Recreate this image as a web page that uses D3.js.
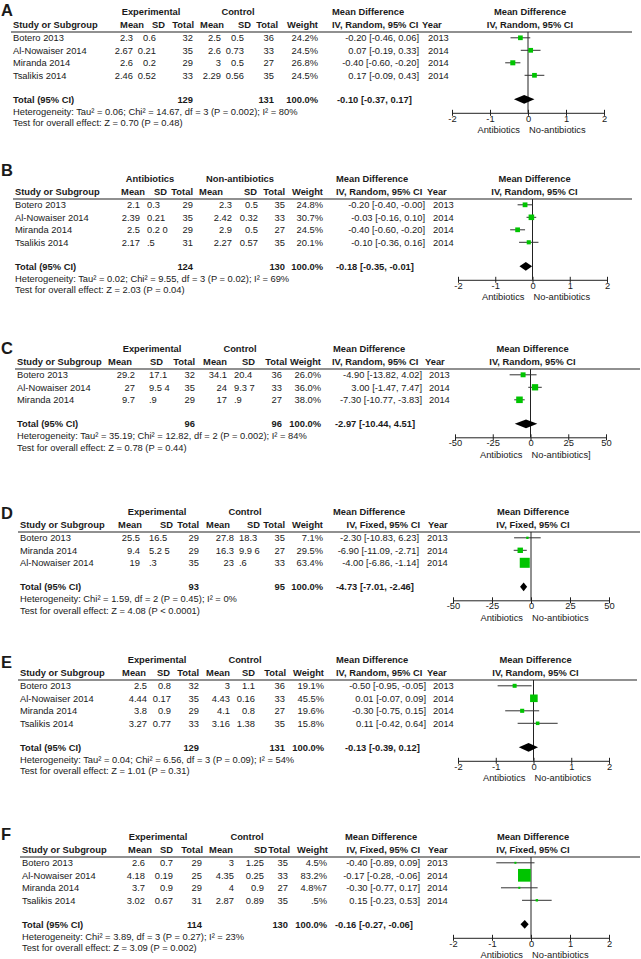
<!DOCTYPE html>
<html><head><meta charset="utf-8">
<script src="https://cdn.jsdelivr.net/npm/d3@7"></script>
<style>
body{margin:0;background:#fff;}
text{font-family:"Liberation Sans",Arial,sans-serif;fill:#1a1a1a;}
</style>
</head><body>
<svg id="c" width="641" height="959"></svg>
<script>
// ================= DATA =================
const panelNames = ["A", "B", "C", "D", "E", "F"];
const groupLabels = [
  ["Experimental", "Control"], ["Antibiotics", "Non-antibiotics"], ["Experimental", "Control"],
  ["Experimental", "Control"], ["Experimental", "Control"], ["Experimental", "Control"]];
const methods = ["IV, Random, 95% CI", "IV, Random, 95% CI", "IV, Random, 95% CI",
  "IV, Fixed, 95% CI", "IV, Random, 95% CI", "IV, Fixed, 95% CI"];
const ticksSmall = [-2, -1, 0, 1, 2];
const ticksLarge = [-50, -25, 0, 25, 50];
const panelTicks = [ticksSmall, ticksSmall, ticksLarge, ticksLarge, ticksSmall, ticksSmall];
const favourLeft = ["Antibiotics", "Antibiotics", "Antibiotics", "Antibiotics", "Antibiotics", "Antibiotics"];
const favourRight = ["No-antibiotics", "No-antibiotics", "No-antibiotics]", "No-antibiotics", "No-antibiotics", "No-antibiotics"];

// Panel A
const studiesA = ["Botero 2013", "Al-Nowaiser 2014", "Miranda 2014", "Tsalikis 2014"];
const tableA = [
  ["2.3", "0.6", "32", "2.5", "0.5", "36", "24.2%", "-0.20 [-0.46, 0.06]", "2013"],
  ["2.67", "0.21", "35", "2.6", "0.73", "33", "24.5%", "0.07 [-0.19, 0.33]", "2014"],
  ["2.6", "0.2", "29", "3", "0.5", "27", "26.8%", "-0.40 [-0.60, -0.20]", "2014"],
  ["2.46", "0.52", "33", "2.29", "0.56", "35", "24.5%", "0.17 [-0.09, 0.43]", "2014"]];
const mdA = [-0.20, 0.07, -0.40, 0.17];
const loA = [-0.46, -0.19, -0.60, -0.09];
const hiA = [0.06, 0.33, -0.20, 0.43];
const wA = [24.2, 24.5, 26.8, 24.5];
const totalA = ["129", "131", "100.0%", "-0.10 [-0.37, 0.17]"];
const totalValA = [-0.10, -0.37, 0.17];
const hetA = "Heterogeneity: Tau² = 0.06; Chi² = 14.67, df = 3 (P = 0.002); I² = 80%";
const testA = "Test for overall effect: Z = 0.70 (P = 0.48)";

// Panel B
const studiesB = ["Botero 2013", "Al-Nowaiser 2014", "Miranda 2014", "Tsalikis 2014"];
const tableB = [
  ["2.1", "0.3", "29", "2.3", "0.5", "35", "24.8%", "-0.20 [-0.40, -0.00]", "2013"],
  ["2.39", "0.21", "35", "2.42", "0.32", "33", "30.7%", "-0.03 [-0.16, 0.10]", "2014"],
  ["2.5", "0.2 0", "29", "2.9", "0.5", "27", "24.5%", "-0.40 [-0.60, -0.20]", "2014"],
  ["2.17", ".5", "31", "2.27", "0.57", "35", "20.1%", "-0.10 [-0.36, 0.16]", "2014"]];
const mdB = [-0.20, -0.03, -0.40, -0.10];
const loB = [-0.40, -0.16, -0.60, -0.36];
const hiB = [-0.00, 0.10, -0.20, 0.16];
const wB = [24.8, 30.7, 24.5, 20.1];
const totalB = ["124", "130", "100.0%", "-0.18 [-0.35, -0.01]"];
const totalValB = [-0.18, -0.35, -0.01];
const hetB = "Heterogeneity: Tau² = 0.02; Chi² = 9.55, df = 3 (P = 0.02); I² = 69%";
const testB = "Test for overall effect: Z = 2.03 (P = 0.04)";

// Panel C
const studiesC = ["Botero 2013", "Al-Nowaiser 2014", "Miranda 2014"];
const tableC = [
  ["29.2", "17.1", "32", "34.1", "20.4", "36", "26.0%", "-4.90 [-13.82, 4.02]", "2013"],
  ["27", "9.5 4", "35", "24", "9.3 7", "33", "36.0%", "3.00 [-1.47, 7.47]", "2014"],
  ["9.7", ".9", "29", "17", ".9", "27", "38.0%", "-7.30 [-10.77, -3.83]", "2014"]];
const mdC = [-4.90, 3.00, -7.30];
const loC = [-13.82, -1.47, -10.77];
const hiC = [4.02, 7.47, -3.83];
const wC = [26.0, 36.0, 38.0];
const totalC = ["96", "96", "100.0%", "-2.97 [-10.44, 4.51]"];
const totalValC = [-2.97, -10.44, 4.51];
const hetC = "Heterogeneity: Tau² = 35.19; Chi² = 12.82, df = 2 (P = 0.002); I² = 84%";
const testC = "Test for overall effect: Z = 0.78 (P = 0.44)";

// Panel D
const studiesD = ["Botero 2013", "Miranda 2014", "Al-Nowaiser 2014"];
const tableD = [
  ["25.5", "16.5", "29", "27.8", "18.3", "35", "7.1%", "-2.30 [-10.83, 6.23]", "2013"],
  ["9.4", "5.2 5", "29", "16.3", "9.9 6", "27", "29.5%", "-6.90 [-11.09, -2.71]", "2014"],
  ["19", ".3", "35", "23", ".6", "33", "63.4%", "-4.00 [-6.86, -1.14]", "2014"]];
const mdD = [-2.30, -6.90, -4.00];
const loD = [-10.83, -11.09, -6.86];
const hiD = [6.23, -2.71, -1.14];
const wD = [7.1, 29.5, 63.4];
const totalD = ["93", "95", "100.0%", "-4.73 [-7.01, -2.46]"];
const totalValD = [-4.73, -7.01, -2.46];
const hetD = "Heterogeneity: Chi² = 1.59, df = 2 (P = 0.45); I² = 0%";
const testD = "Test for overall effect: Z = 4.08 (P < 0.0001)";

// Panel E
const studiesE = ["Botero 2013", "Al-Nowaiser 2014", "Miranda 2014", "Tsalikis 2014"];
const tableE = [
  ["2.5", "0.8", "32", "3", "1.1", "36", "19.1%", "-0.50 [-0.95, -0.05]", "2013"],
  ["4.44", "0.17", "35", "4.43", "0.16", "33", "45.5%", "0.01 [-0.07, 0.09]", "2014"],
  ["3.8", "0.9", "29", "4.1", "0.8", "27", "19.6%", "-0.30 [-0.75, 0.15]", "2014"],
  ["3.27", "0.77", "33", "3.16", "1.38", "35", "15.8%", "0.11 [-0.42, 0.64]", "2014"]];
const mdE = [-0.50, 0.01, -0.30, 0.11];
const loE = [-0.95, -0.07, -0.75, -0.42];
const hiE = [-0.05, 0.09, 0.15, 0.64];
const wE = [19.1, 45.5, 19.6, 15.8];
const totalE = ["129", "131", "100.0%", "-0.13 [-0.39, 0.12]"];
const totalValE = [-0.13, -0.39, 0.12];
const hetE = "Heterogeneity: Tau² = 0.04; Chi² = 6.56, df = 3 (P = 0.09); I² = 54%";
const testE = "Test for overall effect: Z = 1.01 (P = 0.31)";

// Panel F
const studiesF = ["Botero 2013", "Al-Nowaiser 2014", "Miranda 2014", "Tsalikis 2014"];
const tableF = [
  ["2.6", "0.7", "29", "3", "1.25", "35", "4.5%", "-0.40 [-0.89, 0.09]", "2013"],
  ["4.18", "0.19", "25", "4.35", "0.25", "33", "83.2%", "-0.17 [-0.28, -0.06]", "2014"],
  ["3.7", "0.9", "29", "4", "0.9", "27", "4.8%7", "-0.30 [-0.77, 0.17]", "2014"],
  ["3.02", "0.67", "31", "2.87", "0.89", "35", ".5%", "0.15 [-0.23, 0.53]", "2014"]];
const mdF = [-0.40, -0.17, -0.30, 0.15];
const loF = [-0.89, -0.28, -0.77, -0.23];
const hiF = [0.09, -0.06, 0.17, 0.53];
const wF = [4.5, 83.2, 4.8, 7.5];
const totalF = ["114", "130", "100.0%", "-0.16 [-0.27, -0.06]"];
const totalValF = [-0.16, -0.27, -0.06];
const hetF = "Heterogeneity: Chi² = 3.89, df = 3 (P = 0.27); I² = 23%";
const testF = "Test for overall effect: Z = 3.09 (P = 0.002)";

const panelData = [
  [studiesA, tableA, mdA, loA, hiA, wA, totalA, totalValA, hetA, testA],
  [studiesB, tableB, mdB, loB, hiB, wB, totalB, totalValB, hetB, testB],
  [studiesC, tableC, mdC, loC, hiC, wC, totalC, totalValC, hetC, testC],
  [studiesD, tableD, mdD, loD, hiD, wD, totalD, totalValD, hetD, testD],
  [studiesE, tableE, mdE, loE, hiE, wE, totalE, totalValE, hetE, testE],
  [studiesF, tableF, mdF, loF, hiF, wF, totalF, totalValF, hetF, testF]];

// ================= LAYOUT (positions only) =================
const layout = [
  {L:32, letterY:10, x0:13, col:[133,156,193,221,244,274,318], sdA:["end","end"], hdr:[144,165,194,224,251,278,318], g:[151,238],
   md:332, methAnchor:"start", methX:332, ci:419, yearH:422, year:428, totCI:337, range:[452,604], lineEnd:632},
  {L:199, letterY:170, x0:15, col:[140,147,193,232,258,285,323], sdA:["start","end"], hdr:[145,167,193,223,257,285,323], g:[150,240],
   md:336, methAnchor:"start", methX:336, ci:425, yearH:427, year:433, totCI:336, range:[458,607], lineEnd:632},
  {L:369, letterY:348, x0:17, col:[135,149,195,227,234,282,321], sdA:["start","start"], hdr:[132,163,195,227,255,287,321], g:[152,240],
   md:333, methAnchor:"start", methX:332, ci:422, yearH:425, year:429, totCI:335, range:[455,606], lineEnd:640},
  {L:532, letterY:513, x0:20, col:[140,149,199,234,239,285,323], sdA:["start","start"], hdr:[142,173,199,230,260,285,323], g:[157,245],
   md:333, methAnchor:"end", methX:420, ci:419, yearH:428, year:427, totCI:336, range:[453,609], lineEnd:640},
  {L:680, letterY:662, x0:20, col:[147,171,199,230,255,285,324], sdA:["end","end"], hdr:[146,170,199,230,255,286,324], g:[157,245],
   md:336, methAnchor:"start", methX:336, ci:426, yearH:427, year:433, totCI:345, range:[458,609], lineEnd:637},
  {L:857, letterY:834, x0:22, col:[145,173,202,234,264,288,327], sdA:["end","end"], hdr:[152,173,203,233,267,290,328], g:[158,247],
   md:345, methAnchor:"end", methX:420, ci:420, yearH:428, year:427, totCI:335, range:[453,609], lineEnd:640}
];

// ================= DRAW =================
const svg = d3.select("#c");
const FS = 9.35;
const green = "#00c400";
const sizeScale = d3.scaleLinear().domain([0, 100]).range([1.4, 15]);

panelData.forEach((pd, p) => {
  const [studies, table, md, lo, hi, w, total, totalVal, het, test] = pd;
  const lay = layout[p];
  const g = svg.append("g");
  const L = lay.L;
  const n = studies.length;
  const yRow = d3.scaleLinear().domain([0, 1]).range([L + 5.8, L + 18.3]);
  const yTotal = yRow(n - 1) + 24;
  const yAxis = yTotal + 13.5;
  const ticks = panelTicks[p];
  const x = d3.scaleLinear().domain(d3.extent(ticks)).range(lay.range);
  const zero = x(0);

  const txt = (xx, yy, s, anchor, bold, size) => g.append("text")
    .attr("x", xx).attr("y", yy).attr("dy", "0.35em")
    .attr("text-anchor", anchor || "start")
    .style("font-size", (size || FS) + "px")
    .style("font-weight", bold ? "bold" : "normal")
    .text(s);

  // Panel letter
  txt(1, lay.letterY, panelNames[p], "start", true, 16.5);

  // Headers
  const h1 = L - 20, h2 = L - 7.5;
  txt(lay.g[0], h1, groupLabels[p][0], "middle", true);
  txt(lay.g[1], h1, groupLabels[p][1], "middle", true);
  txt(lay.x0, h2, "Study or Subgroup", "start", true);
  ["Mean", "SD", "Total", "Mean", "SD", "Total", "Weight"].forEach((h, i) => txt(lay.hdr[i], h2, h, "end", true));
  txt(lay.md, h1, "Mean Difference", "start", true);
  txt(lay.methX, h2, methods[p], lay.methAnchor, true);
  txt(lay.yearH, h2, "Year", "start", true);
  txt(zero + 2, h1, "Mean Difference", "middle", true);
  txt(zero + 2, h2, methods[p], "middle", true);

  // Header rule
  g.append("line").attr("x1", lay.x0 - 2).attr("x2", lay.lineEnd)
    .attr("y1", L).attr("y2", L).attr("stroke", "#222").attr("stroke-width", 1.1);

  // Study rows
  studies.forEach((s, i) => {
    const yy = yRow(i);
    const r = table[i];
    txt(lay.x0, yy, s, "start");
    txt(lay.col[0], yy, r[0], "end");
    txt(lay.col[1], yy, r[1], lay.sdA[0]);
    txt(lay.col[2], yy, r[2], "end");
    txt(lay.col[3], yy, r[3], "end");
    txt(lay.col[4], yy, r[4], lay.sdA[1]);
    txt(lay.col[5], yy, r[5], "end");
    txt(lay.col[6], yy, r[6], "end");
    txt(lay.ci, yy, r[7], "end");
    txt(lay.year, yy, r[8], "start");
  });

  // Total row
  txt(lay.x0, yTotal, "Total (95% CI)", "start", true);
  txt(lay.col[2], yTotal, total[0], "end", true);
  txt(lay.col[5], yTotal, total[1], "end", true);
  txt(lay.col[6], yTotal, total[2], "end", true);
  txt(lay.totCI, yTotal, total[3], "start", true);
  txt(lay.x0, yTotal + 12, het, "start");
  txt(lay.x0, yTotal + 23.5, test, "start");

  // Zero line
  g.append("line").attr("x1", zero).attr("x2", zero).attr("y1", L).attr("y2", yAxis)
    .attr("stroke", "#222").attr("stroke-width", 1);

  // CI lines and squares
  studies.forEach((s, i) => {
    const yy = yRow(i);
    g.append("line").attr("x1", x(lo[i])).attr("x2", x(hi[i])).attr("y1", yy).attr("y2", yy)
      .attr("stroke", "#333").attr("stroke-width", 1);
    const sz = sizeScale(w[i]);
    g.append("rect").attr("x", x(md[i]) - sz / 2).attr("y", yy - sz / 2)
      .attr("width", sz).attr("height", sz).attr("fill", green);
  });

  // Diamond
  const [tm, tl, th] = totalVal;
  g.append("path")
    .attr("d", `M${x(tl)},${yTotal}L${x(tm)},${yTotal - 4.4}L${x(th)},${yTotal}L${x(tm)},${yTotal + 4.4}Z`)
    .attr("fill", "#000");

  // Axis
  const ax = g.append("g").attr("transform", `translate(0,${yAxis})`)
    .call(d3.axisBottom(x).tickValues(ticks).tickFormat(d => String(d)).tickSize(3).tickSizeOuter(0));
  ax.select(".domain").attr("stroke", "#222");
  ax.selectAll(".tick line").attr("y1", -3).attr("y2", 3).attr("stroke", "#222");
  ax.selectAll(".tick text").attr("y", 2.2).style("font-size", FS + "px")
    .style("font-family", '"Liberation Sans",Arial,sans-serif').attr("fill", "#1a1a1a");

  txt(zero - 8, yAxis + 17, favourLeft[p], "end");
  txt(zero + 1, yAxis + 17, favourRight[p], "start");
});
</script>
</body></html>
